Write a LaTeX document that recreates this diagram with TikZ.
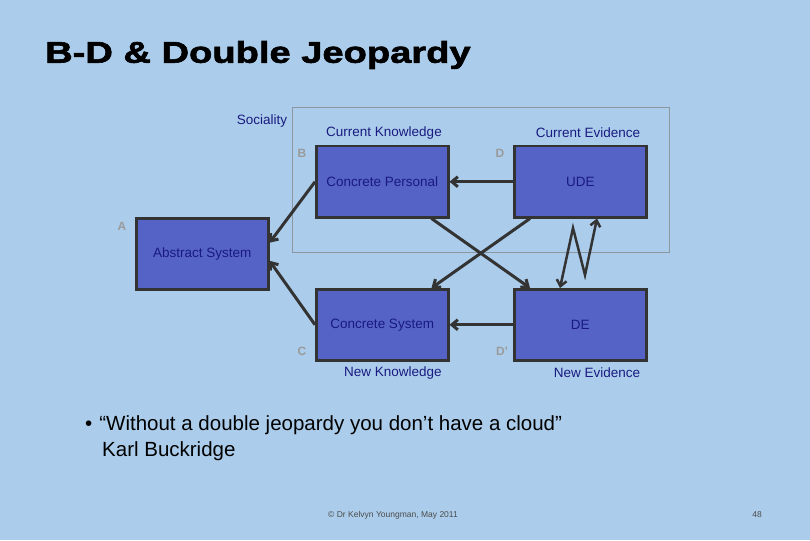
\documentclass[tikz,border=0pt]{standalone}
\usepackage{fontspec}
\setmainfont{Liberation Sans}
\newfontfamily\titlefont[FakeBold=2,FakeStretch=1.27]{Liberation Sans Bold}
\usetikzlibrary{arrows.meta}
\definecolor{bg}{HTML}{ABCDEB}
\definecolor{boxf}{HTML}{5563C6}
\definecolor{dark}{HTML}{333333}
\definecolor{lbl}{HTML}{1A1A80}
\definecolor{letter}{HTML}{9A9A9A}
\begin{document}
\begin{tikzpicture}[x=1pt,y=-1pt,
  box/.style={draw=dark,line width=2.5pt,fill=boxf,minimum width=132pt,minimum height=71pt,inner sep=0pt,anchor=north west,font=\fontsize{13.5}{15}\selectfont,text=lbl},
  lab/.style={font=\fontsize{13.5}{15}\selectfont,text=lbl},
  let/.style={font=\bfseries\fontsize{12}{14}\selectfont,text=letter},
  arr/.style={draw=dark,line width=3pt,-{Straight Barb[length=6pt,width=10pt]}}]
\fill[bg] (0,0) rectangle (810,540);
\useasboundingbox (0,0) rectangle (810,540);
\node[anchor=west,font=\titlefont\fontsize{30}{34}\selectfont,inner sep=0pt] (title) at (45,55) {B-D \& Double Jeopardy};
\draw[draw=gray!70!bg,line width=1pt] (292,108) rectangle (669,252);
\node[lab] (soc) at (262,121) {Sociality};
\node[box] (cp) at (315,145) {Concrete Personal};
\node[box] (ude) at (513,145) {UDE};
\node[box] (as) at (135,217) {Abstract System};
\node[box] (cs) at (315,288) {Concrete System};
\node[box] (de) at (513,288) {DE};
\node[lab] (ck) at (384,133) {Current Knowledge};
\node[lab] (ce) at (588,133) {Current Evidence};
\node[lab] (nk) at (393,373) {New Knowledge};
\node[lab] (ne) at (597,373) {New Evidence};
\node[let] (lb) at (302,153) {B};
\node[let] (ld) at (500,153) {D};
\node[let] (la) at (122,226) {A};
\node[let] (lc) at (302,351) {C};
\node[let] (ldp) at (502,351) {D'};
\draw[arr] (ude.west) -- (cp.east);
\draw[arr] (de.west) -- (cs.east);
\draw[arr] (cp.west) -- ([yshift=11pt]as.east);
\draw[arr] (cs.west) -- ([yshift=-7pt]as.east);
\draw[arr] ([xshift=-18pt]cp.south east) -- ([xshift=17pt]de.north west);
\draw[arr] ([xshift=17pt]ude.south west) -- ([xshift=-18pt]cs.north east);
\coordinate (z1) at (573,228);
\coordinate (z2) at (585,275);
\draw[draw=dark,line width=2.5pt,{Straight Barb[length=6pt,width=10pt]}-{Straight Barb[length=6pt,width=10pt]}] ([xshift=47pt]de.north west) -- (z1) -- (z2) -- ([xshift=84pt]ude.south west);
\node[anchor=west,font=\fontsize{20.5}{26}\selectfont,align=left,inner sep=0pt] (q) at (85,438) {•\hspace{7pt}“Without a double jeopardy you don’t have a cloud”\\\hspace{17pt}Karl Buckridge};
\node[font=\fontsize{8.5}{10}\selectfont,text=black!70] (foot) at (393,515) {© Dr Kelvyn Youngman, May 2011};
\node[font=\fontsize{8.5}{10}\selectfont,text=black!70] (pg) at (757,515) {48};
\end{tikzpicture}
\end{document}
